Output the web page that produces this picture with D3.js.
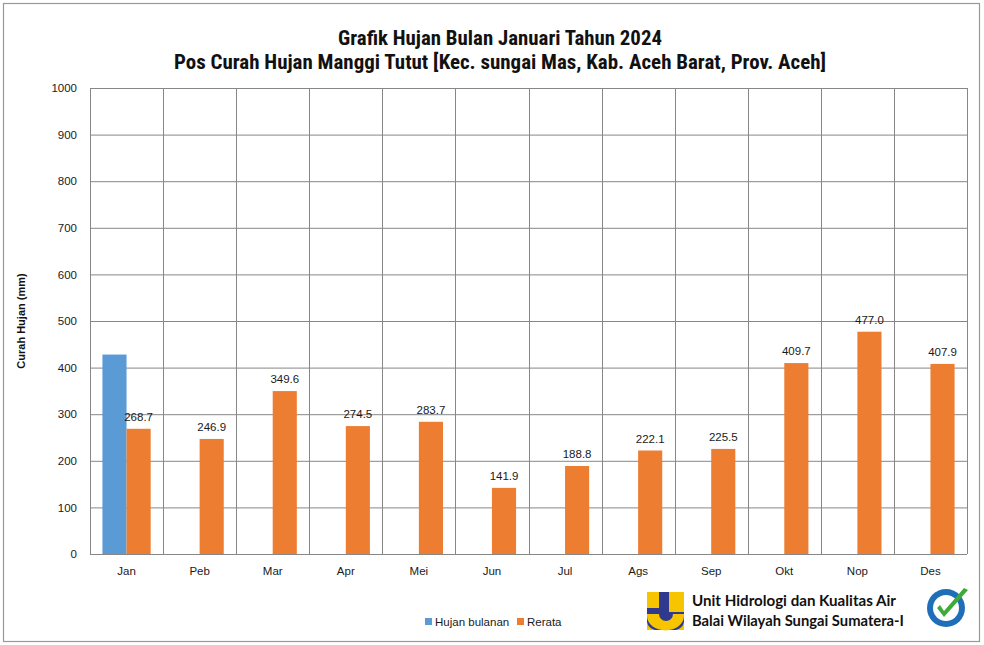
<!DOCTYPE html>
<html><head><meta charset="utf-8">
<script src="https://cdn.jsdelivr.net/npm/d3@7"></script>
<style>body{margin:0;background:#fff}svg{display:block}</style>
</head><body><svg id="c" width="984" height="645"></svg>
<script>
const categories = ["Jan","Peb","Mar","Apr","Mei","Jun","Jul","Ags","Sep","Okt","Nop","Des"];
const hujanBulanan = [428, null, null, null, null, null, null, null, null, null, null, null];
const rerata = [268.7, 246.9, 349.6, 274.5, 283.7, 141.9, 188.8, 222.1, 225.5, 409.7, 477.0, 407.9];
const yTicks = [0,100,200,300,400,500,600,700,800,900,1000];
const seriesNames = ["Hujan bulanan","Rerata"];
const colors = ["#5B9BD5","#ED7D31"];

const svg = d3.select("#c");
svg.append("rect").attr("x",3.5).attr("y",3.5).attr("width",976).attr("height",638)
  .attr("fill","#fff").attr("stroke","#999").attr("stroke-width",1.2);

const L=90, R=967, T=88, B=554;
const x = d3.scaleBand().domain(categories).range([L,R]).paddingInner(0).paddingOuter(0);
const y = d3.scaleLinear().domain([0,1000]).range([B,T]);
const groupW = x.bandwidth()*0.66;
const x1 = d3.scaleBand().domain(seriesNames).range([0,groupW]);
const af = "Arial, 'Liberation Sans', sans-serif";

// grid
const g = svg.append("g");
g.selectAll("line.h").data(yTicks).join("line")
  .attr("x1",L).attr("x2",R).attr("y1",d=>y(d)+0.5).attr("y2",d=>y(d)+0.5)
  .attr("stroke","#878787").attr("stroke-width",1);
g.selectAll("line.v").data(d3.range(categories.length+1)).join("line")
  .attr("x1",i=>Math.round(L+i*x.bandwidth())+0.5).attr("x2",i=>Math.round(L+i*x.bandwidth())+0.5)
  .attr("y1",T).attr("y2",B).attr("stroke","#878787").attr("stroke-width",1);

// y axis labels
const yAxis = d3.axisLeft(y).tickValues(yTicks).tickFormat(d3.format("d")).tickSize(0).tickPadding(13);
const ya = svg.append("g").attr("transform",`translate(${L},0)`).call(yAxis);
ya.select(".domain").remove();
ya.selectAll("text").attr("font-family",af).attr("font-size","11.5px").attr("fill","#1a1a1a");

// x axis labels
const xAxis = d3.axisBottom(x).tickSize(0).tickPadding(13);
const xa = svg.append("g").attr("transform",`translate(0,${B})`).call(xAxis);
xa.select(".domain").remove();
xa.selectAll("text").attr("font-family",af).attr("font-size","11.5px").attr("fill","#1a1a1a");

// bars
const off = (x.bandwidth()-groupW)/2;
svg.append("g").selectAll("rect").data(categories.map((c,i)=>({c,v:hujanBulanan[i]})).filter(d=>d.v!=null)).join("rect")
  .attr("x",d=>x(d.c)+off+x1(seriesNames[0])).attr("width",x1.bandwidth())
  .attr("y",d=>y(d.v)).attr("height",d=>B-y(d.v)).attr("fill",colors[0]);
svg.append("g").selectAll("rect").data(categories.map((c,i)=>({c,v:rerata[i]}))).join("rect")
  .attr("x",d=>x(d.c)+off+x1(seriesNames[1])).attr("width",x1.bandwidth())
  .attr("y",d=>y(d.v)).attr("height",d=>B-y(d.v)).attr("fill",colors[1]);
svg.append("g").selectAll("text").data(categories.map((c,i)=>({c,v:rerata[i]}))).join("text")
  .attr("x",d=>x(d.c)+off+x1(seriesNames[1])+x1.bandwidth()/2)
  .attr("y",d=>y(d.v)-8).attr("text-anchor","middle")
  .attr("font-family",af).attr("font-size","11.5px").attr("fill","#1a1a1a")
  .text(d=>d.v.toFixed(1));

// title
const tf = "'Liberation Sans Narrow','Arial Narrow','Roboto Condensed',Arial,sans-serif";
svg.append("text").attr("x",500).attr("y",45).attr("text-anchor","middle").attr("font-family",tf)
  .attr("font-weight","bold").attr("font-size","21px").attr("fill","#111")
  .attr("textLength",324).attr("lengthAdjust","spacingAndGlyphs")
  .text("Grafik Hujan Bulan Januari Tahun 2024");
svg.append("text").attr("x",500).attr("y",69).attr("text-anchor","middle").attr("font-family",tf)
  .attr("font-weight","bold").attr("font-size","21px").attr("fill","#111")
  .attr("textLength",652).attr("lengthAdjust","spacingAndGlyphs")
  .text("Pos Curah Hujan Manggi Tutut [Kec. sungai Mas, Kab. Aceh Barat, Prov. Aceh]");

// y title
svg.append("text").attr("transform","translate(25,321) rotate(-90)").attr("text-anchor","middle")
  .attr("font-family",af).attr("font-weight","bold").attr("font-size","11px").attr("fill","#111")
  .text("Curah Hujan (mm)");

// legend
const lg = svg.append("g");
const legX = [425, 517];
seriesNames.forEach((n,i)=>{
  lg.append("rect").attr("x",legX[i]).attr("y",618).attr("width",7).attr("height",7).attr("fill",colors[i]);
  lg.append("text").attr("x",legX[i]+10).attr("y",626).attr("font-family",af)
    .attr("font-size","11.5px").attr("fill","#1a1a1a").text(n);
});

// PU logo
const lo = svg.append("g").attr("transform","translate(647,592)");
lo.append("rect").attr("x",0).attr("y",0).attr("width",37).attr("height",38).attr("fill","#2F3A8F");
lo.append("rect").attr("x",0).attr("y",0).attr("width",12).attr("height",16).attr("fill","#F6C500");
lo.append("rect").attr("x",22).attr("y",0).attr("width",15).attr("height",20).attr("fill","#F6C500");
lo.append("path").attr("d","M0,22 L12,22 A7,7 0 0 0 26,22 L37,22 L37,24 A18,14 0 0 1 0,24 Z").attr("fill","#F6C500");
lo.append("path").attr("d","M0,30 L0,38 L8,38 A12,10 0 0 1 0,30 Z").attr("fill","#F6C500");
lo.append("path").attr("d","M37,30 L37,38 L29,38 A12,10 0 0 0 37,30 Z").attr("fill","#F6C500");

const lf = "Lato, 'Open Sans', sans-serif";
svg.append("text").attr("x",692).attr("y",606).attr("font-family",lf).attr("font-weight","bold")
  .attr("font-size","14.5px").attr("fill","#111").attr("textLength",204).attr("lengthAdjust","spacingAndGlyphs")
  .text("Unit Hidrologi dan Kualitas Air");
svg.append("text").attr("x",692).attr("y",626).attr("font-family",lf).attr("font-weight","bold")
  .attr("font-size","14.5px").attr("fill","#111").attr("textLength",212).attr("lengthAdjust","spacingAndGlyphs")
  .text("Balai Wilayah Sungai Sumatera-I");

// ISO badge
const iso = svg.append("g").attr("transform","translate(946,608)");
iso.append("circle").attr("r",19).attr("fill","#1F6FB8");
iso.append("circle").attr("r",13).attr("fill","#fff");
iso.append("path").attr("d","M-9,0 L-2,9 L22,-18 L18,-20 L-2,3 L-6,-3 Z").attr("fill","#3DAA3A");
</script></body></html>
